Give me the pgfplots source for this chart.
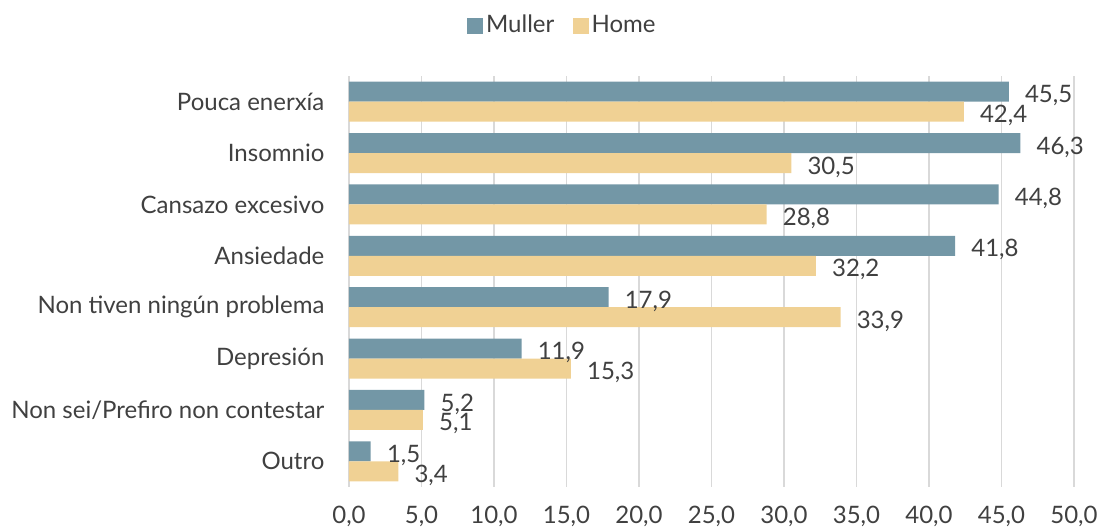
\documentclass[border=0pt]{standalone}
\usepackage{pgfplots}
\pgfplotsset{compat=1.18}
\usepackage{fontspec}
\setmainfont{Lato}
\definecolor{muller}{HTML}{7397A6}
\definecolor{home}{HTML}{F0D194}
\definecolor{txt}{HTML}{404040}
\definecolor{grd}{HTML}{D9D9D9}
\begin{document}
\fontsize{18}{21}\selectfont
\begin{tikzpicture}
\begin{axis}[
  scale only axis,
  width=543.75pt, height=308.25pt,
  xmin=0, xmax=50,
  ymin=-0.5, ymax=7.5,
  xbar, bar width=15pt,
  axis line style={draw=none},
  tick style={draw=none},
  xtick={0,5,...,50},
  xmajorgrids, grid style={grd, line width=1.1pt},
  ytick={0,...,7},
  yticklabels={Outro,{Non sei/Prefiro non contestar},Depresión,{Non tiven ningún problema},Ansiedade,{Cansazo excesivo},Insomnio,{Pouca enerxía}},
  ticklabel style={font=\fontsize{18}{21}\selectfont, text=txt},
  xticklabel style={yshift=-8pt},
  yticklabel style={xshift=-8pt},
  /pgf/number format/.cd, fixed, precision=1, fixed zerofill, use comma, assume math mode=true,
  /pgfplots/.cd,
  nodes near coords,
  nodes near coords style={font=\fontsize{18}{21}\selectfont, text=txt, anchor=west, xshift=6pt, yshift=-3pt,
    /pgf/number format/.cd, fixed, precision=1, fixed zerofill, use comma, assume math mode=true},
  legend style={draw=none, at={(rel axis cs:0.295,1.1225)}, anchor=center, legend columns=2,
    font=\fontsize{18}{21}\selectfont, text=txt, /tikz/every even column/.append style={column sep=12pt}},
  legend image code/.code={\fill[#1] (0pt,-6pt) rectangle (12pt,6pt);},
]
\addplot[fill=muller, draw=none, bar shift=7.5pt] coordinates {
 (1.5,0) (5.2,1) (11.9,2) (17.9,3) (41.8,4) (44.8,5) (46.3,6) (45.5,7)};
\addplot[fill=home, draw=none, bar shift=-7.5pt] coordinates {
 (3.4,0) (5.1,1) (15.3,2) (33.9,3) (32.2,4) (28.8,5) (30.5,6) (42.4,7)};
\legend{Muller,Home}
\end{axis}
\pgfresetboundingbox
\path ([xshift=-261.75pt, yshift=57pt]current axis.north west) ([xshift=19.5pt, yshift=-31.5pt]current axis.south east);
\end{tikzpicture}
\end{document}
